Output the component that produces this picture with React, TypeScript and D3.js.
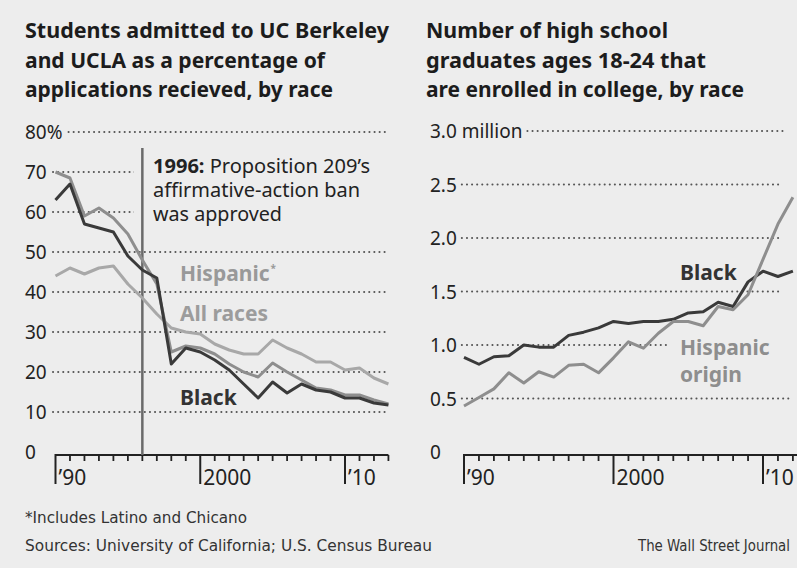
import React, { useEffect, useRef } from "react";
import * as d3 from "d3";

const W = 797;
const H = 568;

// ---------- Left chart data ----------
const leftYears = [1990, 1991, 1992, 1993, 1994, 1995, 1996, 1997, 1998, 1999, 2000, 2001, 2002, 2003, 2004, 2005, 2006, 2007, 2008, 2009, 2010, 2011, 2012, 2013];
const leftBlack = [63, 67, 57, 56, 55, 49, 45.5, 43.5, 22, 26, 25, 23, 20.5, 17, 13.5, 17.5, 14.75, 17, 15.5, 15, 13.5, 13.5, 12.25, 11.75];
const leftHispanic = [70, 68.5, 59, 61, 58.5, 54.5, 48, 42, 25, 26.5, 26, 24.5, 22, 20, 18.75, 22.25, 20, 18, 16, 15.5, 14.25, 14.25, 13, 12];
const leftAllRaces = [44, 46, 44.5, 46, 46.5, 42, 38.5, 34.5, 31, 30, 29.5, 27, 25.5, 24.5, 24.5, 28, 26, 24.5, 22.5, 22.5, 20.5, 21, 18.5, 17];
const leftTicks = [0, 10, 20, 30, 40, 50, 60, 70, 80];
const leftTickLabels = ["0", "10", "20", "30", "40", "50", "60", "70", "80%"];

// ---------- Right chart data ----------
const rightYears = [1990, 1991, 1992, 1993, 1994, 1995, 1996, 1997, 1998, 1999, 2000, 2001, 2002, 2003, 2004, 2005, 2006, 2007, 2008, 2009, 2010, 2011, 2012];
const rightBlack = [0.885, 0.82, 0.89, 0.9, 1.0, 0.98, 0.98, 1.09, 1.12, 1.16, 1.22, 1.2, 1.22, 1.22, 1.24, 1.3, 1.31, 1.4, 1.36, 1.59, 1.69, 1.64, 1.69];
const rightHispanic = [0.43, 0.51, 0.59, 0.74, 0.645, 0.75, 0.7, 0.81, 0.82, 0.74, 0.88, 1.03, 0.97, 1.11, 1.22, 1.22, 1.18, 1.36, 1.33, 1.47, 1.8, 2.13, 2.38];
const rightTicks = [0, 0.5, 1, 1.5, 2, 2.5, 3];
const rightTickLabels = ["0", "0.5", "1.0", "1.5", "2.0", "2.5", "3.0 million"];

// ---------- Shared axis ----------
const majorYears = [1990, 2000, 2010];
const majorYearLabels = ["\u201990", "2000", "\u201910"];

// ---------- Text ----------
const leftTitle = ["Students admitted to UC Berkeley", "and UCLA as a percentage of", "applications recieved, by race"];
const rightTitle = ["Number of high school", "graduates ages 18-24 that", "are enrolled in college, by race"];
const footnote = "*Includes Latino and Chicano";
const sources = "Sources: University of California; U.S. Census Bureau";
const credit = "The Wall Street Journal";

const BG = "#ededed";
const FONT = "'Noto Sans', 'Open Sans', sans-serif";
const NARROW = "'Liberation Sans Narrow', 'DejaVu Sans Condensed', 'Noto Sans', sans-serif";
const C_BLACK = "#3a3a3a";
const C_HISP = "#8e8e8e";
const C_ALL = "#a8a8a8";

export default function App() {
  const ref = useRef<SVGSVGElement>(null);

  useEffect(() => {
    const svg = d3.select(ref.current);
    svg.selectAll("*").remove();
    svg.append("rect").attr("width", W).attr("height", H).attr("fill", BG);

    // Titles
    const titleLens = [
      [364, 300, 308],
      [242, 280, 318],
    ];
    [leftTitle, rightTitle].forEach((lines, i) => {
      lines.forEach((t, j) => {
        svg.append("text")
          .attr("x", i === 0 ? 25 : 426)
          .attr("y", 38 + j * 29.7)
          .attr("font-family", FONT)
          .attr("font-weight", 700)
          .attr("font-size", 21)
          .attr("fill", "#1c1c1c")
          .attr("textLength", titleLens[i][j])
          .attr("lengthAdjust", "spacingAndGlyphs")
          .text(t);
      });
    });

    const dotted = (g: any, x1: number, x2: number, y: number) => {
      g.append("line")
        .attr("x1", x1).attr("x2", x2).attr("y1", y).attr("y2", y)
        .attr("stroke", "#555")
        .attr("stroke-width", 2)
        .attr("stroke-linecap", "round")
        .attr("stroke-dasharray", "0.1 5");
    };

    // ================= LEFT =================
    const xL = d3.scaleLinear().domain([1990, 2010]).range([55.5, 345]);
    const yL = d3.scaleLinear().domain([0, 80]).range([452, 132]);
    const gL = svg.append("g");

    leftTicks.forEach((v, i) => {
      const t = gL.append("text")
        .attr("x", 25).attr("y", yL(v) + 7)
        .attr("font-family", FONT).attr("font-size", 19).attr("fill", "#222")
        .text(leftTickLabels[i]);
      if (v > 0) {
        const bb = (t.node() as SVGTextElement).getBBox();
        dotted(gL, Math.max(53, bb.x + bb.width + 6), 387, yL(v));
      }
    });

    // annotation background (interrupts gridlines)
    gL.append("rect").attr("x", 134).attr("y", 150).attr("width", 258).attr("height", 80).attr("fill", BG);

    // annotation
    const ann = gL.append("g").attr("font-family", FONT).attr("font-size", 19).attr("fill", "#222");
    const a1 = ann.append("text").attr("x", 153).attr("y", 173).attr("textLength", 217).attr("lengthAdjust", "spacingAndGlyphs");
    a1.append("tspan").attr("font-weight", 700).text("1996:");
    a1.append("tspan").text(" Proposition 209\u2019s");
    ann.append("text").attr("x", 153).attr("y", 197).attr("textLength", 207).attr("lengthAdjust", "spacingAndGlyphs").text("affirmative-action ban");
    ann.append("text").attr("x", 153).attr("y", 221).attr("textLength", 129).attr("lengthAdjust", "spacingAndGlyphs").text("was approved");

    // x axis
    const axisY = 455;
    gL.append("line").attr("x1", xL(1990)).attr("x2", xL(2013)).attr("y1", axisY).attr("y2", axisY)
      .attr("stroke", "#222").attr("stroke-width", 2);
    leftYears.forEach((yr) => {
      if (majorYears.includes(yr)) return;
      gL.append("line").attr("x1", xL(yr)).attr("x2", xL(yr)).attr("y1", axisY).attr("y2", axisY + 6)
        .attr("stroke", "#222").attr("stroke-width", 1.8);
    });
    majorYears.forEach((yr, i) => {
      gL.append("line").attr("x1", xL(yr)).attr("x2", xL(yr)).attr("y1", axisY - 1).attr("y2", axisY + 29)
        .attr("stroke", "#222").attr("stroke-width", 2);
      gL.append("text").attr("x", xL(yr) + 3).attr("y", 485)
        .attr("font-family", FONT).attr("font-size", 21).attr("fill", "#222")
        .text(majorYearLabels[i]);
    });

    // 1996 vertical line
    gL.append("line").attr("x1", xL(1996)).attr("x2", xL(1996)).attr("y1", 148).attr("y2", axisY)
      .attr("stroke", "#6a6a6a").attr("stroke-width", 2.5);

    const lineL = d3.line<number>().x((_, i) => xL(leftYears[i])).y((d) => yL(d));
    [[leftAllRaces, C_ALL], [leftHispanic, C_HISP], [leftBlack, C_BLACK]].forEach(([data, c]) => {
      gL.append("path").attr("d", lineL(data as number[]) as string)
        .attr("fill", "none").attr("stroke", c as string).attr("stroke-width", 3)
        .attr("stroke-linejoin", "round");
    });

    // series labels
    const hl = gL.append("text").attr("x", 180).attr("y", 281).attr("font-family", FONT)
      .attr("font-weight", 700).attr("font-size", 21).attr("fill", "#999");
    hl.append("tspan").text("Hispanic");
    hl.append("tspan").attr("font-size", 10).attr("dy", -9).attr("dx", 1).text("*");
    gL.append("text").attr("x", 180).attr("y", 321).attr("font-family", FONT)
      .attr("font-weight", 700).attr("font-size", 21).attr("fill", "#9c9c9c").text("All races");
    gL.append("text").attr("x", 180).attr("y", 405).attr("font-family", FONT)
      .attr("font-weight", 700).attr("font-size", 21).attr("fill", "#333").text("Black");

    // ================= RIGHT =================
    const xR = d3.scaleLinear().domain([1990, 2010]).range([464, 763]);
    const yR = d3.scaleLinear().domain([0, 3]).range([452, 131]);
    const gR = svg.append("g");

    rightTicks.forEach((v, i) => {
      const t = gR.append("text")
        .attr("x", 430).attr("y", yR(v) + 7)
        .attr("font-family", FONT).attr("font-size", 19).attr("fill", "#222")
        .text(rightTickLabels[i]);
      if (v > 0) {
        const bb = (t.node() as SVGTextElement).getBBox();
        dotted(gR, bb.x + bb.width + 5, v === 0.5 ? 792 : 783, yR(v));
      }
    });

    // label background for Hispanic origin
    gR.append("rect").attr("x", 670).attr("y", 330).attr("width", 127).attr("height", 60).attr("fill", BG);

    gR.append("line").attr("x1", xR(1990)).attr("x2", W).attr("y1", axisY).attr("y2", axisY)
      .attr("stroke", "#222").attr("stroke-width", 2);
    rightYears.forEach((yr) => {
      if (majorYears.includes(yr)) return;
      gR.append("line").attr("x1", xR(yr)).attr("x2", xR(yr)).attr("y1", axisY).attr("y2", axisY + 6)
        .attr("stroke", "#222").attr("stroke-width", 1.8);
    });
    majorYears.forEach((yr, i) => {
      gR.append("line").attr("x1", xR(yr)).attr("x2", xR(yr)).attr("y1", axisY - 1).attr("y2", axisY + 29)
        .attr("stroke", "#222").attr("stroke-width", 2);
      gR.append("text").attr("x", xR(yr) + 3).attr("y", 485)
        .attr("font-family", FONT).attr("font-size", 21).attr("fill", "#222")
        .text(majorYearLabels[i]);
    });

    const lineR = d3.line<number>().x((_, i) => xR(rightYears[i])).y((d) => yR(d));
    [[rightBlack, C_BLACK], [rightHispanic, C_HISP]].forEach(([data, c]) => {
      gR.append("path").attr("d", lineR(data as number[]) as string)
        .attr("fill", "none").attr("stroke", c as string).attr("stroke-width", 3)
        .attr("stroke-linejoin", "round");
    });

    gR.append("text").attr("x", 680).attr("y", 280).attr("font-family", FONT)
      .attr("font-weight", 700).attr("font-size", 21).attr("fill", "#333").text("Black");
    gR.append("text").attr("x", 680).attr("y", 355).attr("font-family", FONT)
      .attr("font-weight", 700).attr("font-size", 21).attr("fill", "#8e8e8e").text("Hispanic");
    gR.append("text").attr("x", 680).attr("y", 382).attr("font-family", FONT)
      .attr("font-weight", 700).attr("font-size", 21).attr("fill", "#8e8e8e").text("origin");

    // ================= FOOTER =================
    svg.append("text").attr("x", 25).attr("y", 523).attr("font-family", NARROW).attr("font-size", 15)
      .attr("fill", "#333").attr("textLength", 222).attr("lengthAdjust", "spacingAndGlyphs").text(footnote);
    svg.append("text").attr("x", 25).attr("y", 551).attr("font-family", NARROW).attr("font-size", 15)
      .attr("fill", "#333").attr("textLength", 407).attr("lengthAdjust", "spacingAndGlyphs").text(sources);
    svg.append("text").attr("x", 790).attr("y", 551).attr("text-anchor", "end").attr("font-family", NARROW).attr("font-size", 15)
      .attr("fill", "#333").attr("textLength", 152).attr("lengthAdjust", "spacingAndGlyphs").text(credit);
  }, []);

  return (
    <div style={{ position: "absolute", left: 0, top: 0 }}>
      <svg ref={ref} width={W} height={H} style={{ display: "block" }} />
    </div>
  );
}
